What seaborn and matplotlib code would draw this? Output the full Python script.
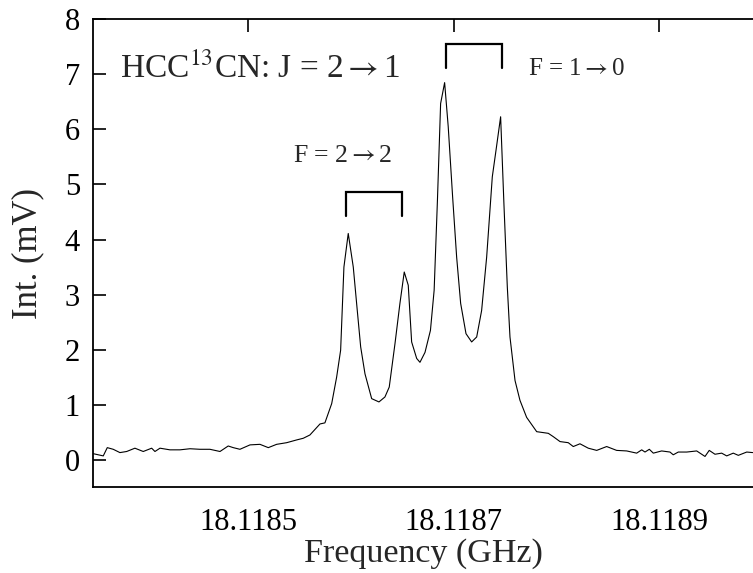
import matplotlib
matplotlib.use("Agg")
import matplotlib.pyplot as plt
import matplotlib.ticker as mticker
import seaborn as sns
import pandas as pd

# Frequency (GHz) and intensity (mV)
freq_ghz = [
    18.1183492, 18.1183589, 18.1183628, 18.1183686, 18.1183751, 18.1183817,
    18.1183897, 18.1183978, 18.1184060, 18.1184092, 18.1184141, 18.1184238,
    18.1184335, 18.1184433, 18.1184530, 18.1184627, 18.1184725, 18.1184805,
    18.1184854, 18.1184919, 18.1185017, 18.1185114, 18.1185195, 18.1185276,
    18.1185374, 18.1185471, 18.1185535, 18.1185600, 18.1185698, 18.1185746,
    18.1185812, 18.1185860, 18.1185899, 18.1185931, 18.1185973, 18.1186022,
    18.1186061, 18.1186094, 18.1186136, 18.1186201, 18.1186272, 18.1186330,
    18.1186372, 18.1186428, 18.1186476, 18.1186518, 18.1186557, 18.1186590,
    18.1186639, 18.1186671, 18.1186720, 18.1186773, 18.1186809, 18.1186841,
    18.1186872, 18.1186911, 18.1186946, 18.1186989, 18.1187028, 18.1187067,
    18.1187119, 18.1187174, 18.1187223, 18.1187271, 18.1187320, 18.1187375,
    18.1187411, 18.1187456, 18.1187488, 18.1187521, 18.1187547, 18.1187596,
    18.1187644, 18.1187709, 18.1187807, 18.1187920, 18.1187968, 18.1188034,
    18.1188114, 18.1188163, 18.1188228, 18.1188309, 18.1188391, 18.1188488,
    18.1188585, 18.1188683, 18.1188780, 18.1188829, 18.1188861, 18.1188903,
    18.1188942, 18.1189023, 18.1189104, 18.1189136, 18.1189185, 18.1189267,
    18.1189364, 18.1189445, 18.1189486, 18.1189542, 18.1189607, 18.1189656,
    18.1189720, 18.1189769, 18.1189851, 18.1189909,
]
intensity_mv = [
    0.11, 0.07, 0.22, 0.19, 0.13, 0.15,
    0.21, 0.15, 0.21, 0.15, 0.21, 0.18,
    0.18, 0.20, 0.19, 0.19, 0.15, 0.25,
    0.22, 0.19, 0.27, 0.28, 0.22, 0.28,
    0.31, 0.36, 0.39, 0.45, 0.65, 0.67,
    1.02, 1.50, 1.99, 3.50, 4.11, 3.50,
    2.71, 2.05, 1.56, 1.11, 1.05, 1.14,
    1.32, 2.11, 2.84, 3.41, 3.17, 2.14,
    1.84, 1.77, 1.95, 2.35, 3.08, 4.71,
    6.47, 6.85, 6.05, 4.77, 3.68, 2.84,
    2.29, 2.14, 2.23, 2.71, 3.68, 5.14,
    5.62, 6.23, 4.65, 3.14, 2.23, 1.44,
    1.08, 0.77, 0.51, 0.48, 0.42, 0.33,
    0.31, 0.24, 0.29, 0.21, 0.17, 0.24,
    0.17, 0.16, 0.12, 0.18, 0.14, 0.19,
    0.12, 0.16, 0.14, 0.09, 0.14, 0.14,
    0.16, 0.06, 0.17, 0.10, 0.12, 0.07,
    0.12, 0.08, 0.14, 0.13,
]

x_ticks = [18.1185, 18.1187, 18.1189]
x_tick_labels = ["18.1185", "18.1187", "18.1189"]
y_ticks = [0, 1, 2, 3, 4, 5, 6, 7, 8]

title_text = "HCC$^{13}$CN: J = 2$\\rightarrow$1"
label_22 = "F = 2$\\rightarrow$2"
label_10 = "F = 1$\\rightarrow$0"

# bracket extents (frequency) and heights (mV)
bracket_22_x = [18.1185951, 18.1186496]
bracket_22_y = [4.43, 4.87]
bracket_10_x = [18.1186921, 18.1187466]
bracket_10_y = [7.11, 7.55]

sns.set_style("white")
plt.rcParams["font.family"] = ["Liberation Serif", "DejaVu Serif"]
plt.rcParams["mathtext.fontset"] = "stix"

fig = plt.figure(figsize=(7.53, 5.73), dpi=100)
ax = fig.add_axes([0.1239, 0.1496, 0.8761, 0.8167])

df = pd.DataFrame({"freq": freq_ghz, "inten": intensity_mv})
sns.lineplot(data=df, x="freq", y="inten", ax=ax, color="black", linewidth=0.8,
             sort=False, estimator=None)

ax.set_xlim(18.1183492, 18.1189912)
ax.set_ylim(-0.5, 8)

ax.set_xticks(x_ticks)
ax.xaxis.set_major_formatter(mticker.FixedFormatter(x_tick_labels))
ax.set_yticks(y_ticks)

ax.tick_params(axis="both", direction="in", length=9.5, width=1.2,
               labelsize=22, colors="black")
ax.tick_params(axis="x", top=True, pad=15)
ax.tick_params(axis="y", left=True, right=False, pad=9.5)

for s in ["left", "bottom", "top"]:
    ax.spines[s].set_linewidth(1.3)
    ax.spines[s].set_color("black")
ax.spines["right"].set_visible(False)

ax.set_xlabel("Frequency (GHz)", fontsize=24.5, labelpad=1)
ax.set_ylabel("Int. (mV)", fontsize=25, labelpad=15)

ax.text(18.1183751, 6.93, title_text, fontsize=24, ha="left", va="baseline")
ax.text(18.1185435, 5.41, label_22, fontsize=18.5, ha="left", va="baseline")
ax.text(18.1187725, 6.98, label_10, fontsize=18, ha="left", va="baseline")

for bx, by in [(bracket_22_x, bracket_22_y), (bracket_10_x, bracket_10_y)]:
    ax.plot([bx[0], bx[0], bx[1], bx[1]], [by[0], by[1], by[1], by[0]],
            color="black", linewidth=1.6, solid_joinstyle="miter")

fig.savefig("out.png", dpi=100)
